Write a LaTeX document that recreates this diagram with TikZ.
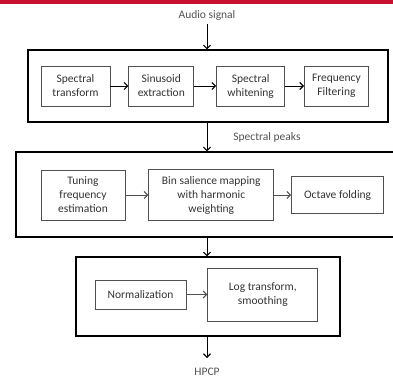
\documentclass[tikz,border=0pt]{standalone}
\usepackage{fontspec}
\setmainfont{Carlito}
\usepackage{tikz}
\usetikzlibrary{positioning,arrows.meta}
\usepackage{xcolor}
\definecolor{barred}{HTML}{C8102E}
\definecolor{textgray}{HTML}{333333}
\definecolor{linegray}{HTML}{505050}

\begin{document}
\begin{tikzpicture}[x=1pt,y=-1pt,
			font=\fontsize{11.5}{14}\selectfont, text=textgray,
			stage/.style={draw=black, line width=1.3pt, rectangle, inner sep=0pt},
			block/.style={draw=linegray, line width=0.8pt, rectangle, align=center, inner sep=2pt},
			sigtext/.style={text=textgray!85},
			arrow/.style={-{Straight Barb[length=3.5pt,width=7pt,line width=1.1pt]}, line width=0.9pt},
			garrow/.style={arrow, draw=linegray, line width=0.6pt}
		]
		\useasboundingbox (0,0) rectangle (393,378);
		\fill[barred] (0,0) rectangle (393,4);

		% outer stages
		\node[stage, minimum width=360pt, minimum height=72pt] (stage1) at (208,86) {};
		\node[stage, minimum width=381pt, minimum height=85pt] (stage2) at (206.5,194.5) {};
		\node[stage, minimum width=264pt, minimum height=79pt] (stage3) at (208,296.5) {};

		% first stage
		\node[block, minimum width=69pt, minimum height=40pt] (spec) at (75.5,86) {Spectral\\transform};
		\node[block, minimum width=65pt, minimum height=40pt, right=18pt of spec] (sinus) {Sinusoid\\extraction};
		\node[block, minimum width=68pt, minimum height=40pt, right=22pt of sinus] (white) {Spectral\\whitening};
		\node[block, minimum width=64pt, minimum height=40pt, right=19pt of white] (filt) {Frequency\\Filtering};

		% second stage
		\node[block, minimum width=84pt, minimum height=50pt] (tune) at (83,195) {Tuning\\frequency\\estimation};
		\node[block, minimum width=125pt, minimum height=51pt, right=23pt of tune] (bin) {Bin salience mapping\\with harmonic\\weighting};
		\node[block, minimum width=92pt, minimum height=37pt, right=17pt of bin] (oct) {Octave folding};

		% third stage
		\node[block, minimum width=91pt, minimum height=29pt] (norm) at (140.5,294.5) {Normalization};
		\node[block, minimum width=110pt, minimum height=53pt, right=21pt of norm] (logt) {Log transform,\\smoothing};

		% signals
		\node[sigtext] (audio) at (207,15) {Audio signal};
		\node[sigtext] (peaks) at (267,137) {Spectral peaks};
		\node[sigtext] (hpcp) at (207,372) {HPCP};
		\coordinate (hpcpin) at (207,358);

		\draw[arrow] (audio) -- (audio |- stage1.north);
		\draw[arrow] (stage1.south -| audio) -- (audio |- stage2.north);
		\draw[arrow] (stage2.south -| audio) -- (audio |- stage3.north);
		\draw[arrow] (stage3.south -| audio) -- (hpcpin);

		\draw[arrow] (spec) -- (sinus);
		\draw[arrow] (sinus) -- (white);
		\draw[arrow] (white) -- (filt);
		\draw[garrow] (tune) -- (bin);
		\draw[garrow] (bin) -- (oct);
		\draw[garrow] (norm) -- (logt);
	\end{tikzpicture}
\end{document}
